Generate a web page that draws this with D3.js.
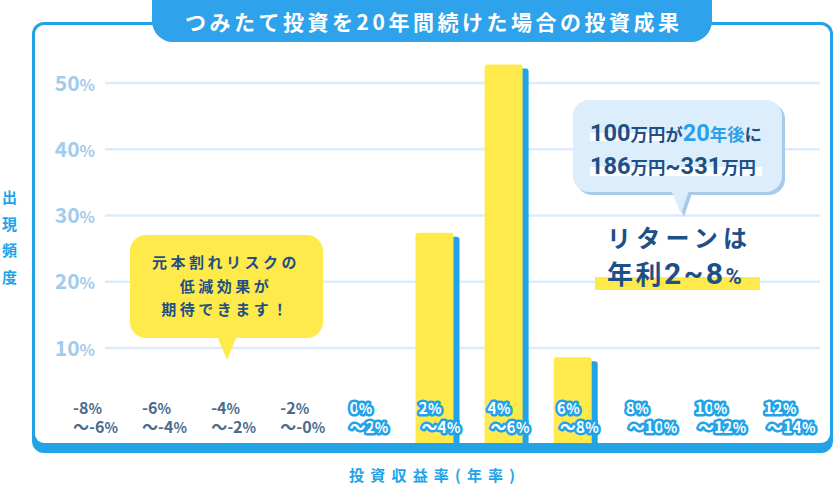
<!DOCTYPE html>
<html><head><meta charset="utf-8">
<script src="https://cdn.jsdelivr.net/npm/d3@7"></script>
<style>
html,body{margin:0;padding:0;background:#fff;}
svg{display:block;}
text{font-family:"Noto Sans CJK JP","Noto Sans",sans-serif;font-weight:700;}
</style></head>
<body>
<script>
// ---- data ----
const catFrom = ["-8%","-6%","-4%","-2%","0%","2%","4%","6%","8%","10%","12%"];
const catTo   = ["〜-6%","〜-4%","〜-2%","〜-0%","〜2%","〜4%","〜6%","〜8%","〜10%","〜12%","〜14%"];
const values  = [0,0,0,0,0,27.4,52.8,8.6,0,0,0];
const yTicks  = [10,20,30,40,50];
const title = "つみたて投資を20年間続けた場合の投資成果";
const yTitle = ["出","現","頻","度"];
const xTitle = "投資収益率(年率)";
const note1 = ["元本割れリスクの","低減効果が","期待できます！"];
const returnLines = ["リターンは","年利2~8%"];

const W = 838, H = 487;
const svg = d3.select("body").append("svg").attr("width",W).attr("height",H);

const BLUE = "#22a3e8", DARK = "#1e4f86", GRID = "#dcecfb";
const NUM = "Roboto, sans-serif";
const x = d3.scalePoint().domain(d3.range(catFrom.length)).range([73,764]);
const y = d3.scaleLinear().domain([0,50]).range([414.25,83]);
const bottomY = 443;

// frame
svg.append("rect").attr("x",32).attr("y",22).attr("width",801).attr("height",431).attr("rx",12).attr("fill",BLUE);
svg.append("rect").attr("x",35).attr("y",25).attr("width",795).attr("height",418).attr("rx",9).attr("fill","#fff");

// title pill
svg.append("rect").attr("x",152).attr("y",-20).attr("width",560).attr("height",62).attr("rx",21).attr("fill","#2ea2ea");
svg.append("text").attr("x",432).attr("y",30).attr("text-anchor","middle").attr("fill","#fff")
  .attr("font-size",21).attr("textLength",494).attr("lengthAdjust","spacing").text(title);

// gridlines
svg.append("g").selectAll("line").data(yTicks).join("line")
  .attr("x1",105).attr("x2",820).attr("y1",d=>y(d)).attr("y2",d=>y(d))
  .attr("stroke",GRID).attr("stroke-width",2.5);

// y tick labels
const yl = svg.append("g").selectAll("text").data(yTicks).join("text")
  .attr("x",95).attr("y",d=>y(d)+7.5).attr("text-anchor","end").attr("fill","#a2cbec")
  .attr("font-size",21).attr("font-family",NUM);
yl.append("tspan").text(d=>d);
yl.append("tspan").attr("font-size",16).text("%");

// y title
svg.append("g").selectAll("text").data(yTitle).join("text")
  .attr("x",9.5).attr("y",(d,i)=>203+i*26.5).attr("text-anchor","middle")
  .attr("fill",BLUE).attr("font-size",15).text(d=>d);

// bars
function topRounded(x0,y0,w,h,r){
  return `M${x0},${y0+h}V${y0+r}Q${x0},${y0} ${x0+r},${y0}H${x0+w-r}Q${x0+w},${y0} ${x0+w},${y0+r}V${y0+h}Z`;
}
const bw = 38, bOff = -3;
const bars = svg.append("g").selectAll("g").data(values.map((v,i)=>({v,i})).filter(d=>d.v>0)).join("g");
bars.append("path").attr("fill",BLUE)
  .attr("d",d=>topRounded(x(d.i)+bOff+6, y(d.v)+4, bw, bottomY-y(d.v)-4, 3));
bars.append("path").attr("fill","#ffea4c")
  .attr("d",d=>topRounded(x(d.i)+bOff, y(d.v), bw, bottomY-y(d.v), 3));

// category labels (one text element, two lines)
const cl = svg.append("g").selectAll("text").data(catFrom.map((c,i)=>({c,t:catTo[i],i}))).join("text")
  .attr("font-size",16).attr("font-family",NUM)
  .attr("fill",d=>d.i<4?"#4a6b8c":"#fff")
  .attr("stroke",d=>d.i<4?"none":BLUE).attr("stroke-width",5)
  .attr("stroke-linejoin","round").attr("paint-order","stroke");
[["c",414],["t",433]].forEach(([k,yy])=>{
  const line = cl.append("tspan").attr("x",d=>x(d.i)+(k==="t"&&d.i>=5?3:0)).attr("y",yy);
  line.append("tspan").text(d=>d[k].replace("%",""));
  line.append("tspan").attr("font-size",14).text("%");
});

// x title
svg.append("text").attr("x",349).attr("y",481).attr("fill",BLUE).attr("font-size",15)
  .attr("textLength",166).attr("lengthAdjust","spacing").text(xTitle);

// yellow callout
svg.append("rect").attr("x",130).attr("y",235).attr("width",193).attr("height",103).attr("rx",16).attr("fill","#ffea4c");
svg.append("path").attr("d","M217,336L237,336L227,360Z").attr("fill","#ffea4c");
svg.append("g").selectAll("text").data(note1).join("text")
  .attr("x",226).attr("y",(d,i)=>268+i*23.5).attr("text-anchor","middle").attr("fill",DARK)
  .attr("font-size",15).attr("letter-spacing",3.5).text(d=>d);

// blue callout with shadow
svg.append("rect").attr("x",576).attr("y",103).attr("width",209).attr("height",92).attr("rx",16).attr("fill","#a9cbea");
svg.append("path").attr("d","M674,193L692,193L684,217Z").attr("fill","#a9cbea");
svg.append("rect").attr("x",573).attr("y",100).attr("width",209).attr("height",92).attr("rx",16).attr("fill","#dcedfc");
svg.append("path").attr("d","M671,190L689,190L681,214Z").attr("fill","#dcedfc");
svg.append("rect").attr("x",590).attr("y",133).attr("width",77).attr("height",8).attr("fill","#fff");
svg.append("rect").attr("x",590).attr("y",167).attr("width",172).attr("height",9).attr("fill","#fff");
const l1 = svg.append("text").attr("x",590).attr("y",141).attr("fill",DARK)
  .attr("textLength",172).attr("lengthAdjust","spacingAndGlyphs");
[["100",23,DARK],["万円が",17,DARK],["20",23,"#2aa0e8"],["年後",17,"#2aa0e8"],["に",17,DARK]].forEach(([s,f,c])=>
  l1.append("tspan").attr("font-size",f).attr("fill",c).attr("font-family",/\d/.test(s)?NUM:null).text(s));
const l2 = svg.append("text").attr("x",590).attr("y",174).attr("fill",DARK)
  .attr("textLength",166).attr("lengthAdjust","spacingAndGlyphs");
[["186",23],["万円",17],["~331",23],["万円",17]].forEach(([s,f])=>
  l2.append("tspan").attr("font-size",f).attr("font-family",/\d/.test(s)?NUM:null).text(s));

// return text
svg.append("rect").attr("x",595).attr("y",277).attr("width",165).attr("height",13).attr("fill","#ffea4c");
svg.append("text").attr("x",607).attr("y",247).attr("fill",DARK)
  .attr("font-size",24).attr("textLength",140).attr("lengthAdjust","spacing").text(returnLines[0]);
const r2 = svg.append("text").attr("x",607).attr("y",284).attr("fill",DARK).attr("font-size",26)
  .attr("letter-spacing",2.5);
r2.append("tspan").text("年利");
r2.append("tspan").attr("font-family",NUM).attr("font-size",30).text("2~8");
r2.append("tspan").attr("font-size",22).attr("font-family",NUM).text("%");
</script>
</body></html>
